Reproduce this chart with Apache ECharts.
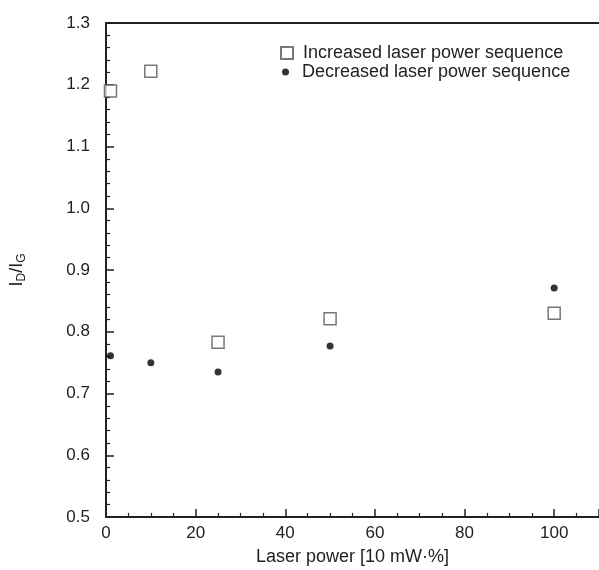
<!DOCTYPE html>
<html>
<head>
<meta charset="utf-8">
<script src="https://cdn.jsdelivr.net/npm/echarts@6/dist/echarts.min.js"></script>
<style>
html,body{margin:0;padding:0;background:#fff;}
#chart{width:599px;height:570px;}
</style>
</head>
<body>
<div id="chart"></div>
<script>
// laser power [10 mW·%]
var powerInc = [1, 10, 25, 50, 100];
var ratioInc = [1.19, 1.222, 0.783, 0.821, 0.830];
var powerDec = [1, 10, 25, 50, 100];
var ratioDec = [0.761, 0.750, 0.735, 0.777, 0.871];
var seriesNames = ['Increased laser power sequence', 'Decreased laser power sequence'];

function pairs(xs, ys){
	var out = [];
	for (var i = 0; i < xs.length; i++) out.push([xs[i], ys[i]]);
	return out;
}

var chart = echarts.init(document.getElementById('chart'));
var axisCol = '#222';
var txtCol = '#222';
var font = 'Liberation Sans, Arial, sans-serif';

var option = {
	animation: false,
	backgroundColor: '#fff',
	grid: { left: 106, top: 23, right: 0, bottom: 53, outerBoundsMode: 'none' },
	legend: [
		{
			data: [seriesNames[0]],
			left: 275, top: 39,
			orient: 'vertical',
			itemWidth: 12, itemHeight: 12,
			textStyle: { fontFamily: font, fontSize: 18, color: txtCol, padding: [0, 0, 0, 5] }
		},
		{
			data: [seriesNames[1]],
			left: 277, top: 58,
			orient: 'vertical',
			itemWidth: 7, itemHeight: 7,
			textStyle: { fontFamily: font, fontSize: 18, color: txtCol, padding: [0, 0, 0, 8] }
		}
	],
	xAxis: [
		{
			type: 'value',
			min: 0, max: 110, interval: 20,
			name: 'Laser power [10 mW·%]',
			nameLocation: 'middle',
			nameGap: 31,
			nameTextStyle: { fontFamily: font, fontSize: 18, color: txtCol },
			axisLine: { lineStyle: { color: axisCol, width: 2 } },
			axisTick: { inside: true, length: 8, lineStyle: { color: axisCol, width: 1.5 } },
			minorTick: { show: true, splitNumber: 4, length: 4, lineStyle: { color: axisCol, width: 1.2 } },
			axisLabel: { fontFamily: font, fontSize: 17, color: txtCol, margin: 8, showMaxLabel: false },
			splitLine: { show: false }
		},
		{
			type: 'value',
			position: 'top',
			min: 0, max: 110,
			axisLine: { show: true, lineStyle: { color: axisCol, width: 2 } },
			axisTick: { show: false },
			axisLabel: { show: false },
			splitLine: { show: false }
		}
	],
	yAxis: {
		type: 'value',
		min: 0.5, max: 1.3, interval: 0.1,
		name: '{m|I}{s|D}{m|/I}{s|G}',
		nameLocation: 'middle',
		nameRotate: 90,
		nameGap: 78,
		nameTextStyle: {
			rich: {
				m: { fontFamily: font, fontSize: 18, color: txtCol },
				s: { fontFamily: font, fontSize: 12, color: txtCol, padding: [9, 0, 0, 0] }
			}
		},
		axisLine: { show: true, lineStyle: { color: axisCol, width: 2 } },
		axisTick: { inside: true, length: 8, lineStyle: { color: axisCol, width: 1.5 } },
		minorTick: { show: true, splitNumber: 5, length: 4, lineStyle: { color: axisCol, width: 1.2 } },
		axisLabel: {
			fontFamily: font, fontSize: 17, color: txtCol, margin: 16,
			formatter: function (v) { return v.toFixed(1); }
		},
		splitLine: { show: false }
	},
	series: [
		{
			name: seriesNames[0],
			type: 'scatter',
			symbol: 'rect',
			symbolSize: 12,
			itemStyle: { color: '#fff', borderColor: '#555', borderWidth: 1.5 },
			data: pairs(powerInc, ratioInc)
		},
		{
			name: seriesNames[1],
			type: 'scatter',
			symbol: 'circle',
			symbolSize: 7,
			itemStyle: { color: '#000' },
			data: pairs(powerDec, ratioDec)
		}
	]
};

chart.setOption(option);
</script>
</body>
</html>
